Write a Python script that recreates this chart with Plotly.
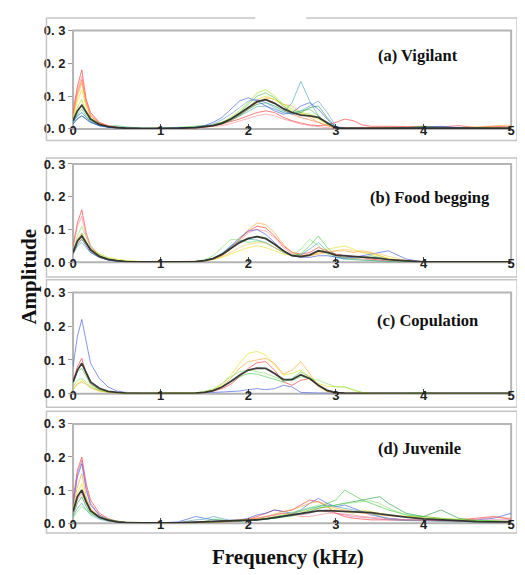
import plotly.graph_objects as go

# ---------------- data ----------------
FREQ = [0, 0.05, 0.1, 0.15, 0.2, 0.3, 0.4, 0.5, 0.6, 0.8, 1.0, 1.2, 1.4, 1.5, 1.6, 1.7, 1.8, 1.9,
        2.0, 2.1, 2.2, 2.3, 2.4, 2.5, 2.6, 2.7, 2.8, 2.9, 3.0, 3.1, 3.2, 3.3, 3.4, 3.5, 3.6, 3.8,
        4.0, 4.2, 4.4, 4.6, 4.8, 5.0]

PANEL_LABELS = ["(a) Vigilant", "(b) Food begging", "(c) Copulation", "(d) Juvenile"]
X_TICKS = [0, 1, 2, 3, 4, 5]
X_TICK_TEXT = ["0", "1", "2", "3", "4", "5"]
Y_TICKS = [0, 0.1, 0.2, 0.3]
Y_TICK_TEXT = ["0. 0", "0. 1", "0. 2", "0. 3"]

# (a) Vigilant
A_RED = [0.05, 0.13, 0.18, 0.09, 0.05, 0.02, 0.01, 0.005, 0.002, 0.001, 0.001, 0.002, 0.004, 0.006, 0.01, 0.015, 0.022, 0.03, 0.04, 0.05, 0.055, 0.05, 0.035, 0.025, 0.018, 0.012, 0.01, 0.012, 0.02, 0.03, 0.025, 0.012, 0.008, 0.007, 0.008, 0.007, 0.008, 0.006, 0.01, 0.004, 0.008, 0.006]
A_ORANGERED = [0.04, 0.11, 0.15, 0.08, 0.04, 0.018, 0.008, 0.004, 0.002, 0.001, 0.001, 0.002, 0.004, 0.006, 0.012, 0.02, 0.03, 0.045, 0.065, 0.085, 0.09, 0.08, 0.06, 0.045, 0.035, 0.028, 0.02, 0.01, 0.003, 0.002, 0.002, 0.002, 0.003, 0.004, 0.005, 0.004, 0.006, 0.004, 0.003, 0.003, 0.003, 0.003]
A_ORANGE = [0.035, 0.1, 0.14, 0.075, 0.04, 0.016, 0.007, 0.003, 0.002, 0.001, 0.001, 0.002, 0.003, 0.005, 0.009, 0.015, 0.025, 0.04, 0.06, 0.08, 0.095, 0.09, 0.075, 0.07, 0.05, 0.035, 0.02, 0.01, 0.003, 0.002, 0.002, 0.002, 0.002, 0.003, 0.003, 0.004, 0.005, 0.004, 0.004, 0.006, 0.01, 0.012]
A_YELLOW = [0.03, 0.085, 0.12, 0.065, 0.035, 0.014, 0.006, 0.003, 0.001, 0.001, 0.001, 0.002, 0.004, 0.006, 0.01, 0.017, 0.028, 0.045, 0.065, 0.09, 0.1, 0.09, 0.07, 0.055, 0.045, 0.04, 0.03, 0.015, 0.003, 0.001, 0.001, 0.001, 0.001, 0.002, 0.002, 0.002, 0.003, 0.002, 0.002, 0.002, 0.002, 0.002]
A_YGREEN = [0.025, 0.065, 0.09, 0.05, 0.028, 0.012, 0.006, 0.003, 0.002, 0.001, 0.001, 0.003, 0.006, 0.008, 0.012, 0.02, 0.035, 0.055, 0.08, 0.11, 0.12, 0.1, 0.075, 0.06, 0.05, 0.045, 0.035, 0.015, 0.003, 0.001, 0.001, 0.001, 0.001, 0.002, 0.002, 0.002, 0.004, 0.003, 0.002, 0.002, 0.002, 0.002]
A_GREEN = [0.02, 0.045, 0.06, 0.04, 0.025, 0.012, 0.008, 0.01, 0.006, 0.002, 0.001, 0.004, 0.008, 0.01, 0.012, 0.02, 0.03, 0.05, 0.075, 0.1, 0.11, 0.095, 0.07, 0.05, 0.055, 0.06, 0.04, 0.015, 0.003, 0.001, 0.001, 0.001, 0.002, 0.002, 0.002, 0.003, 0.008, 0.004, 0.002, 0.002, 0.002, 0.002]
A_DKGREEN = [0.015, 0.03, 0.04, 0.03, 0.02, 0.01, 0.006, 0.004, 0.003, 0.002, 0.001, 0.002, 0.005, 0.007, 0.01, 0.018, 0.028, 0.042, 0.06, 0.075, 0.08, 0.07, 0.055, 0.045, 0.05, 0.065, 0.07, 0.035, 0.005, 0.001, 0.001, 0.001, 0.001, 0.002, 0.002, 0.004, 0.006, 0.003, 0.002, 0.001, 0.001, 0.001]
A_TEAL = [0.02, 0.04, 0.05, 0.035, 0.022, 0.01, 0.006, 0.006, 0.004, 0.002, 0.001, 0.002, 0.004, 0.006, 0.01, 0.016, 0.025, 0.04, 0.055, 0.068, 0.07, 0.06, 0.05, 0.08, 0.145, 0.085, 0.04, 0.015, 0.003, 0.001, 0.001, 0.001, 0.001, 0.001, 0.001, 0.002, 0.003, 0.002, 0.001, 0.001, 0.001, 0.001]
A_LTBLUE = [0.02, 0.04, 0.05, 0.035, 0.022, 0.01, 0.005, 0.003, 0.002, 0.001, 0.001, 0.002, 0.005, 0.008, 0.015, 0.028, 0.045, 0.065, 0.085, 0.09, 0.08, 0.065, 0.05, 0.045, 0.055, 0.07, 0.085, 0.05, 0.008, 0.002, 0.001, 0.001, 0.001, 0.001, 0.001, 0.002, 0.004, 0.006, 0.004, 0.001, 0.001, 0.001]
A_BLUE = [0.015, 0.032, 0.04, 0.03, 0.02, 0.01, 0.005, 0.003, 0.002, 0.001, 0.001, 0.002, 0.005, 0.01, 0.02, 0.035, 0.06, 0.085, 0.095, 0.085, 0.07, 0.055, 0.045, 0.05, 0.07, 0.08, 0.06, 0.03, 0.005, 0.001, 0.001, 0.001, 0.001, 0.001, 0.001, 0.002, 0.005, 0.008, 0.003, 0.001, 0.001, 0.001]
A_PINK = [0.06, 0.12, 0.16, 0.085, 0.045, 0.02, 0.009, 0.004, 0.002, 0.001, 0.001, 0.001, 0.002, 0.004, 0.006, 0.01, 0.016, 0.024, 0.033, 0.04, 0.045, 0.04, 0.03, 0.022, 0.015, 0.01, 0.006, 0.004, 0.002, 0.002, 0.001, 0.001, 0.001, 0.001, 0.001, 0.001, 0.002, 0.002, 0.001, 0.001, 0.001, 0.001]
A_MEAN = [0.025, 0.055, 0.072, 0.05, 0.03, 0.014, 0.007, 0.004, 0.002, 0.001, 0.001, 0.002, 0.004, 0.006, 0.01, 0.017, 0.03, 0.047, 0.066, 0.083, 0.089, 0.078, 0.062, 0.05, 0.042, 0.04, 0.035, 0.018, 0.003, 0.002, 0.002, 0.002, 0.002, 0.002, 0.002, 0.002, 0.004, 0.003, 0.002, 0.002, 0.002, 0.002]

# (b) Food begging
B_RED = [0.05, 0.12, 0.16, 0.09, 0.05, 0.02, 0.008, 0.004, 0.002, 0.001, 0.001, 0.001, 0.003, 0.006, 0.012, 0.025, 0.045, 0.07, 0.095, 0.11, 0.105, 0.08, 0.05, 0.03, 0.025, 0.03, 0.045, 0.035, 0.025, 0.02, 0.018, 0.015, 0.01, 0.006, 0.003, 0.001, 0.001, 0.001, 0.001, 0.001, 0.001, 0.001]
B_PINK = [0.045, 0.11, 0.14, 0.08, 0.045, 0.018, 0.008, 0.004, 0.002, 0.001, 0.001, 0.001, 0.002, 0.005, 0.01, 0.02, 0.04, 0.065, 0.09, 0.1, 0.095, 0.075, 0.045, 0.025, 0.02, 0.025, 0.035, 0.03, 0.02, 0.015, 0.012, 0.01, 0.008, 0.005, 0.003, 0.001, 0.001, 0.001, 0.001, 0.001, 0.001, 0.001]
B_ORANGE = [0.03, 0.07, 0.09, 0.06, 0.035, 0.015, 0.008, 0.004, 0.002, 0.001, 0.001, 0.001, 0.002, 0.004, 0.01, 0.02, 0.04, 0.07, 0.1, 0.12, 0.115, 0.09, 0.055, 0.03, 0.02, 0.02, 0.025, 0.03, 0.035, 0.035, 0.03, 0.035, 0.03, 0.02, 0.01, 0.003, 0.001, 0.001, 0.001, 0.001, 0.001, 0.001]
B_YELLOW = [0.025, 0.055, 0.07, 0.055, 0.04, 0.025, 0.015, 0.01, 0.006, 0.002, 0.001, 0.001, 0.002, 0.004, 0.008, 0.015, 0.025, 0.035, 0.045, 0.05, 0.045, 0.035, 0.025, 0.02, 0.018, 0.02, 0.03, 0.04, 0.045, 0.05, 0.04, 0.03, 0.025, 0.02, 0.012, 0.004, 0.001, 0.001, 0.001, 0.001, 0.001, 0.001]
B_LTGREEN = [0.035, 0.08, 0.11, 0.075, 0.05, 0.025, 0.012, 0.006, 0.003, 0.001, 0.001, 0.001, 0.003, 0.008, 0.02, 0.045, 0.07, 0.068, 0.06, 0.065, 0.06, 0.045, 0.03, 0.02, 0.04, 0.07, 0.05, 0.025, 0.015, 0.01, 0.008, 0.006, 0.004, 0.003, 0.002, 0.001, 0.001, 0.001, 0.001, 0.001, 0.001, 0.001]
B_GREEN = [0.03, 0.065, 0.085, 0.06, 0.04, 0.02, 0.01, 0.005, 0.003, 0.001, 0.001, 0.001, 0.002, 0.005, 0.012, 0.025, 0.045, 0.06, 0.072, 0.08, 0.075, 0.055, 0.035, 0.02, 0.025, 0.05, 0.08, 0.045, 0.02, 0.015, 0.012, 0.015, 0.02, 0.015, 0.008, 0.002, 0.001, 0.001, 0.001, 0.001, 0.001, 0.001]
B_TEAL = [0.025, 0.05, 0.06, 0.045, 0.03, 0.015, 0.007, 0.003, 0.002, 0.001, 0.001, 0.001, 0.002, 0.005, 0.012, 0.028, 0.05, 0.065, 0.07, 0.068, 0.06, 0.045, 0.03, 0.02, 0.022, 0.04, 0.06, 0.035, 0.015, 0.01, 0.008, 0.006, 0.004, 0.003, 0.002, 0.001, 0.001, 0.001, 0.001, 0.001, 0.001, 0.001]
B_BLUE = [0.025, 0.055, 0.07, 0.05, 0.03, 0.015, 0.007, 0.003, 0.002, 0.001, 0.001, 0.001, 0.002, 0.005, 0.012, 0.025, 0.048, 0.075, 0.095, 0.1, 0.085, 0.06, 0.035, 0.02, 0.015, 0.015, 0.02, 0.02, 0.015, 0.012, 0.015, 0.02, 0.025, 0.03, 0.035, 0.01, 0.001, 0.001, 0.001, 0.001, 0.001, 0.001]
B_LTORANGE = [0.028, 0.06, 0.075, 0.055, 0.035, 0.017, 0.009, 0.005, 0.002, 0.001, 0.001, 0.001, 0.002, 0.004, 0.009, 0.018, 0.03, 0.045, 0.055, 0.06, 0.058, 0.045, 0.03, 0.02, 0.018, 0.02, 0.028, 0.03, 0.035, 0.04, 0.035, 0.03, 0.028, 0.025, 0.018, 0.006, 0.001, 0.001, 0.001, 0.001, 0.001, 0.001]
B_MEAN = [0.03, 0.065, 0.08, 0.058, 0.038, 0.018, 0.009, 0.005, 0.002, 0.001, 0.001, 0.001, 0.002, 0.005, 0.011, 0.024, 0.042, 0.06, 0.073, 0.078, 0.072, 0.055, 0.035, 0.02, 0.017, 0.022, 0.035, 0.03, 0.022, 0.02, 0.02, 0.018, 0.015, 0.012, 0.008, 0.004, 0.001, 0.001, 0.001, 0.001, 0.001, 0.001]

# (c) Copulation
C_BLUE = [0.08, 0.17, 0.22, 0.15, 0.09, 0.045, 0.02, 0.008, 0.004, 0.002, 0.002, 0.003, 0.003, 0.003, 0.004, 0.005, 0.006, 0.008, 0.012, 0.015, 0.012, 0.015, 0.025, 0.02, 0.004, 0.002, 0.002, 0.002, 0.002, 0.002, 0.002, 0.002, 0.002, 0.002, 0.002, 0.002, 0.003, 0.002, 0.002, 0.002, 0.002, 0.002]
C_RED = [0.035, 0.08, 0.105, 0.06, 0.03, 0.013, 0.006, 0.003, 0.002, 0.001, 0.001, 0.001, 0.002, 0.004, 0.008, 0.015, 0.028, 0.05, 0.075, 0.092, 0.095, 0.07, 0.035, 0.025, 0.04, 0.045, 0.025, 0.008, 0.002, 0.001, 0.001, 0.001, 0.001, 0.001, 0.001, 0.001, 0.001, 0.001, 0.001, 0.001, 0.001, 0.001]
C_GREEN = [0.03, 0.065, 0.075, 0.05, 0.028, 0.012, 0.006, 0.003, 0.002, 0.001, 0.001, 0.001, 0.002, 0.005, 0.01, 0.02, 0.035, 0.05, 0.06, 0.058, 0.05, 0.042, 0.035, 0.045, 0.065, 0.05, 0.025, 0.008, 0.002, 0.001, 0.001, 0.001, 0.001, 0.001, 0.001, 0.001, 0.004, 0.001, 0.001, 0.001, 0.001, 0.001]
C_YELLOW = [0.015, 0.03, 0.04, 0.03, 0.018, 0.008, 0.004, 0.002, 0.001, 0.001, 0.001, 0.001, 0.002, 0.005, 0.012, 0.028, 0.055, 0.09, 0.12, 0.125, 0.115, 0.085, 0.055, 0.06, 0.07, 0.05, 0.03, 0.022, 0.02, 0.02, 0.01, 0.003, 0.001, 0.001, 0.001, 0.001, 0.001, 0.001, 0.001, 0.001, 0.001, 0.001]
C_ORANGE = [0.012, 0.028, 0.035, 0.028, 0.018, 0.008, 0.004, 0.002, 0.001, 0.001, 0.001, 0.001, 0.002, 0.004, 0.01, 0.022, 0.045, 0.075, 0.095, 0.1, 0.105, 0.09, 0.058, 0.07, 0.095, 0.06, 0.02, 0.006, 0.002, 0.001, 0.001, 0.001, 0.001, 0.001, 0.001, 0.001, 0.001, 0.001, 0.001, 0.001, 0.001, 0.001]
C_LTGREEN = [0.02, 0.04, 0.045, 0.035, 0.022, 0.01, 0.005, 0.003, 0.002, 0.001, 0.001, 0.001, 0.003, 0.007, 0.015, 0.03, 0.05, 0.065, 0.07, 0.065, 0.06, 0.05, 0.04, 0.04, 0.05, 0.045, 0.04, 0.03, 0.02, 0.02, 0.012, 0.004, 0.001, 0.001, 0.001, 0.001, 0.002, 0.001, 0.001, 0.001, 0.001, 0.001]
C_MEAN = [0.035, 0.07, 0.09, 0.06, 0.035, 0.016, 0.007, 0.004, 0.002, 0.001, 0.001, 0.001, 0.002, 0.004, 0.009, 0.02, 0.036, 0.055, 0.07, 0.076, 0.075, 0.06, 0.042, 0.042, 0.056, 0.045, 0.025, 0.01, 0.003, 0.002, 0.001, 0.001, 0.001, 0.001, 0.001, 0.001, 0.001, 0.001, 0.001, 0.001, 0.001, 0.001]

# (d) Juvenile
D_RED = [0.07, 0.16, 0.2, 0.12, 0.07, 0.03, 0.014, 0.006, 0.003, 0.001, 0.001, 0.002, 0.003, 0.004, 0.004, 0.005, 0.006, 0.008, 0.012, 0.02, 0.03, 0.04, 0.035, 0.04, 0.055, 0.07, 0.065, 0.05, 0.03, 0.02, 0.015, 0.012, 0.01, 0.01, 0.01, 0.012, 0.01, 0.008, 0.01, 0.015, 0.02, 0.012]
D_MAGENTA = [0.06, 0.15, 0.19, 0.11, 0.06, 0.025, 0.012, 0.005, 0.002, 0.001, 0.001, 0.001, 0.002, 0.003, 0.004, 0.005, 0.006, 0.008, 0.01, 0.014, 0.02, 0.025, 0.03, 0.028, 0.025, 0.03, 0.04, 0.035, 0.03, 0.025, 0.02, 0.018, 0.015, 0.012, 0.01, 0.008, 0.008, 0.006, 0.006, 0.008, 0.01, 0.01]
D_BLUE = [0.05, 0.14, 0.18, 0.1, 0.055, 0.024, 0.01, 0.005, 0.002, 0.001, 0.001, 0.004, 0.02, 0.015, 0.01, 0.008, 0.008, 0.01, 0.015, 0.025, 0.03, 0.04, 0.035, 0.03, 0.04, 0.06, 0.075, 0.06, 0.05, 0.055, 0.045, 0.035, 0.025, 0.02, 0.015, 0.01, 0.008, 0.006, 0.006, 0.01, 0.015, 0.03]
D_ORANGE = [0.045, 0.11, 0.15, 0.08, 0.045, 0.02, 0.009, 0.004, 0.002, 0.001, 0.001, 0.001, 0.002, 0.003, 0.004, 0.006, 0.008, 0.01, 0.012, 0.015, 0.02, 0.028, 0.035, 0.04, 0.05, 0.06, 0.065, 0.055, 0.045, 0.04, 0.035, 0.03, 0.028, 0.025, 0.022, 0.02, 0.015, 0.012, 0.01, 0.008, 0.006, 0.005]
D_YELLOW = [0.04, 0.09, 0.12, 0.07, 0.04, 0.018, 0.008, 0.004, 0.002, 0.001, 0.001, 0.001, 0.001, 0.002, 0.003, 0.004, 0.006, 0.008, 0.01, 0.012, 0.015, 0.02, 0.025, 0.03, 0.035, 0.04, 0.045, 0.05, 0.04, 0.035, 0.03, 0.04, 0.035, 0.03, 0.025, 0.02, 0.02, 0.015, 0.012, 0.008, 0.006, 0.005]
D_GREEN1 = [0.035, 0.08, 0.1, 0.06, 0.035, 0.018, 0.01, 0.006, 0.003, 0.001, 0.001, 0.001, 0.002, 0.005, 0.012, 0.01, 0.006, 0.006, 0.008, 0.01, 0.012, 0.015, 0.02, 0.025, 0.03, 0.04, 0.05, 0.06, 0.07, 0.1, 0.085, 0.07, 0.06, 0.05, 0.04, 0.025, 0.02, 0.015, 0.01, 0.008, 0.006, 0.005]
D_GREEN2 = [0.025, 0.06, 0.08, 0.05, 0.03, 0.015, 0.008, 0.004, 0.002, 0.001, 0.001, 0.001, 0.001, 0.002, 0.003, 0.004, 0.005, 0.006, 0.008, 0.01, 0.012, 0.015, 0.018, 0.022, 0.028, 0.035, 0.045, 0.05, 0.055, 0.06, 0.065, 0.07, 0.075, 0.08, 0.06, 0.03, 0.02, 0.04, 0.015, 0.008, 0.006, 0.004]
D_LTGREEN = [0.015, 0.035, 0.05, 0.04, 0.03, 0.02, 0.012, 0.006, 0.003, 0.001, 0.001, 0.001, 0.001, 0.002, 0.003, 0.004, 0.005, 0.006, 0.008, 0.01, 0.013, 0.018, 0.025, 0.032, 0.04, 0.048, 0.055, 0.05, 0.055, 0.06, 0.062, 0.065, 0.068, 0.06, 0.045, 0.025, 0.015, 0.012, 0.01, 0.008, 0.006, 0.005]
D_TEAL = [0.02, 0.045, 0.06, 0.04, 0.025, 0.012, 0.006, 0.003, 0.002, 0.001, 0.001, 0.002, 0.01, 0.012, 0.02, 0.015, 0.008, 0.006, 0.008, 0.01, 0.012, 0.015, 0.02, 0.028, 0.035, 0.045, 0.05, 0.055, 0.05, 0.045, 0.04, 0.035, 0.03, 0.02, 0.012, 0.008, 0.006, 0.005, 0.004, 0.004, 0.004, 0.004]
D_PINK = [0.03, 0.07, 0.09, 0.06, 0.04, 0.02, 0.01, 0.005, 0.002, 0.001, 0.001, 0.001, 0.001, 0.002, 0.002, 0.003, 0.004, 0.006, 0.01, 0.015, 0.02, 0.025, 0.03, 0.025, 0.02, 0.02, 0.025, 0.03, 0.03, 0.028, 0.025, 0.02, 0.018, 0.015, 0.012, 0.01, 0.008, 0.006, 0.006, 0.012, 0.018, 0.015]
D_MEAN = [0.035, 0.08, 0.1, 0.065, 0.038, 0.018, 0.009, 0.004, 0.002, 0.001, 0.001, 0.001, 0.003, 0.004, 0.005, 0.005, 0.005, 0.006, 0.008, 0.01, 0.013, 0.017, 0.021, 0.025, 0.03, 0.034, 0.037, 0.038, 0.037, 0.036, 0.035, 0.034, 0.032, 0.028, 0.024, 0.018, 0.013, 0.01, 0.007, 0.005, 0.004, 0.004]

# ---------------- styles ----------------
COL = {
    "red": "rgba(255,40,40,0.6)", "orangered": "rgba(255,100,60,0.6)", "orange": "rgba(255,160,30,0.6)",
    "ltorange": "rgba(255,190,90,0.6)", "yellow": "rgba(230,225,30,0.65)", "ygreen": "rgba(160,225,30,0.65)",
    "green": "rgba(60,200,60,0.6)", "ltgreen": "rgba(120,230,90,0.6)", "dkgreen": "rgba(20,150,60,0.6)",
    "teal": "rgba(60,160,180,0.6)", "ltblue": "rgba(90,150,230,0.6)", "blue": "rgba(50,80,230,0.6)",
    "pink": "rgba(255,120,120,0.55)", "magenta": "rgba(200,80,150,0.55)",
}

panels = [
    [(A_RED, "red"), (A_ORANGERED, "orangered"), (A_ORANGE, "orange"), (A_YELLOW, "yellow"),
     (A_YGREEN, "ygreen"), (A_GREEN, "green"), (A_DKGREEN, "dkgreen"), (A_TEAL, "teal"),
     (A_LTBLUE, "ltblue"), (A_BLUE, "blue"), (A_PINK, "pink")],
    [(B_RED, "red"), (B_PINK, "pink"), (B_ORANGE, "orange"), (B_YELLOW, "yellow"),
     (B_LTGREEN, "ltgreen"), (B_GREEN, "green"), (B_TEAL, "teal"), (B_BLUE, "blue"),
     (B_LTORANGE, "ltorange")],
    [(C_BLUE, "blue"), (C_RED, "red"), (C_GREEN, "green"), (C_YELLOW, "yellow"),
     (C_ORANGE, "orange"), (C_LTGREEN, "ltgreen")],
    [(D_RED, "red"), (D_MAGENTA, "magenta"), (D_BLUE, "blue"), (D_ORANGE, "orange"),
     (D_YELLOW, "yellow"), (D_GREEN1, "green"), (D_GREEN2, "dkgreen"), (D_LTGREEN, "ltgreen"),
     (D_TEAL, "teal"), (D_PINK, "pink")],
]
means = [A_MEAN, B_MEAN, C_MEAN, D_MEAN]

# The page body has an 8px margin, so the figure is 8px smaller and all
# reference pixel positions are shifted by that margin.
PAGE_W, PAGE_H, BODY = 525, 575, 8
W, H = PAGE_W - BODY, PAGE_H - BODY


def px_x(px):
    return (px - BODY) / W


def px_y(py):
    return 1 - (py - BODY) / H


plot_px = [(24, 125), (161, 262), (293, 397), (428, 530)]
outer_px = [(11, 137), (155, 277), (280, 411), (415, 540)]
label_pos = [(420, 50), (433, 195), (430, 322), (422, 453)]
X_LEFT, X_RIGHT = 70, 515

fig = go.Figure()
for i, (series, mean) in enumerate(zip(panels, means)):
    xa = "x" if i == 0 else f"x{i+1}"
    ya = "y" if i == 0 else f"y{i+1}"
    for vals, cname in series:
        fig.add_trace(go.Scatter(x=FREQ, y=vals, mode="lines", xaxis=xa, yaxis=ya,
                                 line=dict(color=COL[cname], width=1), showlegend=False,
                                 hoverinfo="skip"))
    fig.add_trace(go.Scatter(x=FREQ, y=mean, mode="lines", xaxis=xa, yaxis=ya,
                             line=dict(color="rgba(40,40,40,0.9)", width=1.8), showlegend=False))

tickfont = dict(family="Liberation Sans, Arial, sans-serif", size=13, color="#222", weight="bold")
layout = dict(width=W, height=H, margin=dict(l=0, r=0, t=0, b=0),
              paper_bgcolor="white", plot_bgcolor="rgba(0,0,0,0)")
shapes = []
for i, (top, bot) in enumerate(plot_px):
    sfx = "" if i == 0 else str(i + 1)
    layout["xaxis" + sfx] = dict(
        domain=[px_x(X_LEFT), px_x(X_RIGHT)], range=[0, 5], anchor="y" + sfx,
        tickvals=X_TICKS, ticktext=X_TICK_TEXT, ticks="inside", ticklen=5, tickcolor="#444",
        tickwidth=1, tickfont=tickfont, ticklabelstandoff=-8,
        showline=False, showgrid=False, zeroline=False, fixedrange=True)
    layout["yaxis" + sfx] = dict(
        domain=[px_y(bot), px_y(top)], range=[0, 0.3], anchor="x" + sfx,
        tickvals=Y_TICKS, ticktext=Y_TICK_TEXT, ticks="outside", ticklen=4, tickcolor="#999",
        tickwidth=1, tickfont=tickfont,
        showline=False, showgrid=False, zeroline=False, fixedrange=True)
    # inner plot frame, drawn beneath the tick labels
    shapes.append(dict(type="rect", xref="paper", yref="paper", layer="below",
                       x0=px_x(X_LEFT), x1=px_x(X_RIGHT), y0=px_y(bot), y1=px_y(top),
                       line=dict(color="#b4b4b4", width=2)))
fig.update_layout(**layout)

# outer boxes
for i, (top, bot) in enumerate(outer_px):
    x0, x1 = px_x(43), px_x(521)
    y0, y1 = px_y(bot), px_y(top)
    line = dict(color="#c4c4c4", width=1.5)
    if i == 0:
        shapes.append(dict(type="line", xref="paper", yref="paper", x0=x0, x1=px_x(255), y0=y1, y1=y1, line=line))
        shapes.append(dict(type="line", xref="paper", yref="paper", x0=px_x(307), x1=x1, y0=y1, y1=y1, line=line))
        shapes.append(dict(type="line", xref="paper", yref="paper", x0=x0, x1=x0, y0=y0, y1=y1, line=line))
        shapes.append(dict(type="line", xref="paper", yref="paper", x0=x1, x1=x1, y0=y0, y1=y1, line=line))
        shapes.append(dict(type="line", xref="paper", yref="paper", x0=x0, x1=x1, y0=y0, y1=y0, line=line))
    else:
        shapes.append(dict(type="rect", xref="paper", yref="paper", x0=x0, x1=x1, y0=y0, y1=y1,
                           layer="below", line=line))
fig.update_layout(shapes=shapes)

annotations = []
for text, (px, py) in zip(PANEL_LABELS, label_pos):
    annotations.append(dict(text=text, x=px_x(px), y=px_y(py), xref="paper", yref="paper",
                            showarrow=False, xanchor="center", yanchor="middle",
                            font=dict(family="Liberation Serif, Times New Roman, serif", size=16.5,
                                      color="#111", weight="bold")))
annotations.append(dict(text="Amplitude", x=px_x(25), y=px_y(277), xref="paper", yref="paper",
                        showarrow=False, textangle=-90, xanchor="center", yanchor="middle",
                        font=dict(family="Liberation Serif, Times New Roman, serif", size=21,
                                  color="#111", weight="bold")))
annotations.append(dict(text="Frequency (kHz)", x=px_x(288), y=px_y(565), xref="paper", yref="paper",
                        showarrow=False, xanchor="center", yanchor="middle",
                        font=dict(family="Liberation Serif, Times New Roman, serif", size=21,
                                  color="#111", weight="bold")))
fig.update_layout(annotations=annotations)

fig.write_html("out.html")
